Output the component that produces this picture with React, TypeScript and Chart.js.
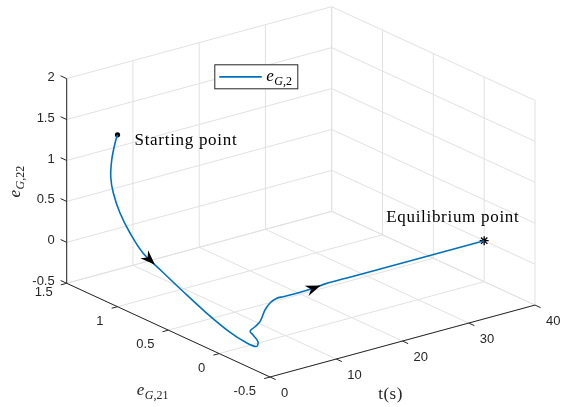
import React, { useEffect, useRef } from "react";
import { Chart, registerables } from "chart.js";

Chart.register(...registerables);

// ---- data (time t, e_G,21, e_G,22) ----
const tValues = [0, 0.15, 0.4, 0.65, 0.9, 1.2, 1.5, 1.8, 2.1, 2.4, 2.75, 3.1, 3.35, 3.55, 3.8, 4.1, 4.4, 4.8, 5.3, 6.0, 6.8, 8.0, 9.6, 11.7, 14.2, 16, 20, 25, 30, 35, 40];
const e21Values = [1.0, 1.034, 1.083, 1.109, 1.1, 1.054, 0.975, 0.867, 0.699, 0.522, 0.309, 0.105, -0.046, -0.136, -0.134, -0.066, -0.017, -0.04, -0.056, -0.06, -0.057, -0.045, -0.005, 0, 0, 0, 0, 0, 0, 0, 0];
const e22Values = [1.6, 1.477, 1.236, 1.007, 0.812, 0.587, 0.382, 0.193, 0.056, -0.081, -0.236, -0.359, -0.412, -0.414, -0.362, -0.326, -0.312, -0.255, -0.195, -0.065, 0.001, 0.025, -0.013, -0.021, -0.015, 0, 0, 0, 0, 0, 0];

const startPoint = [0, 1.0, 1.6];
const equilibriumPoint = [40, 0, 0];

// axis limits and ticks
const tLimits = [0, 40];
const e21Limits = [-0.5, 1.5];
const e22Limits = [-0.5, 2];
const tTicks = [0, 10, 20, 30, 40];
const e21Ticks = [-0.5, 0, 0.5, 1, 1.5];
const e22Ticks = [-0.5, 0, 0.5, 1, 1.5, 2];

// arrows: segment index and fraction along it
const arrowSegments = [7, 24];
const arrowFractions = [0.63, 0.62];

const seriesName = "e_{G,2}";

// ---- view (MATLAB default 3-D view) ----
const AZ = (-37.5 * Math.PI) / 180;
const EL = (30 * Math.PI) / 180;
const cA = Math.cos(AZ), sA = Math.sin(AZ), sE = Math.sin(EL), cE = Math.cos(EL);
const U_HALF = 0.5 * (Math.abs(cA) + Math.abs(sA));
const V_HALF = 0.5 * (Math.abs(sA * sE) + Math.abs(cA * sE) + cE);

function project(t: number, a: number, b: number) {
  const X = (t - tLimits[0]) / (tLimits[1] - tLimits[0]) - 0.5;
  const Y = (a - e21Limits[0]) / (e21Limits[1] - e21Limits[0]) - 0.5;
  const Z = (b - e22Limits[0]) / (e22Limits[1] - e22Limits[0]) - 0.5;
  return {
    x: cA * X + sA * Y,
    y: -sA * sE * X + cA * sE * Y + cE * Z,
  };
}

const AXIS = "#262626";
const GRID = "#e1e1e1";
const BLUE = "#0072BD";
const SANS = "'Liberation Sans', Arial, sans-serif";
const SERIF = "'Liberation Serif', 'Times New Roman', serif";

type Part = { s: string; italic?: boolean; sub?: boolean };
function parseMath(label: string): Part[] {
  const m = label.match(/^(\w)_\{(.+)\}$/);
  if (!m) return [{ s: label }];
  const sub = m[2];
  const parts: Part[] = [{ s: m[1], italic: true }];
  let i = 0;
  while (i < sub.length) {
    const isLetter = /[A-Za-z]/.test(sub[i]);
    let j = i;
    while (j < sub.length && /[A-Za-z]/.test(sub[j]) === isLetter) j++;
    parts.push({ s: sub.slice(i, j), italic: isLetter, sub: true });
    i = j;
  }
  return parts;
}

function drawMath(ctx: CanvasRenderingContext2D, label: string, x: number, y: number, align: "left" | "center", size = 17) {
  const parts = parseMath(label);
  const subSize = Math.round(size * 0.7);
  const fontOf = (p: Part) => `${p.italic ? "italic " : ""}${p.sub ? subSize : size}px ${SERIF}`;
  let w = 0;
  for (const p of parts) {
    ctx.font = fontOf(p);
    w += ctx.measureText(p.s).width;
  }
  let cx = align === "center" ? x - w / 2 : x;
  ctx.textAlign = "left";
  ctx.textBaseline = "alphabetic";
  for (const p of parts) {
    ctx.font = fontOf(p);
    ctx.fillText(p.s, cx, y + (p.sub ? size * 0.24 : 0));
    cx += ctx.measureText(p.s).width + (p.italic && !p.sub ? 0.5 : 0);
  }
}

const box3dPlugin = {
  id: "box3d",
  beforeDatasetsDraw(chart: any) {
    const ctx: CanvasRenderingContext2D = chart.ctx;
    const xs = chart.scales.x, ys = chart.scales.y;
    const P = (t: number, a: number, b: number) => {
      const q = project(t, a, b);
      return [xs.getPixelForValue(q.x), ys.getPixelForValue(q.y)];
    };
    const line = (p1: number[], p2: number[]) => {
      ctx.beginPath();
      ctx.moveTo(p1[0], p1[1]);
      ctx.lineTo(p2[0], p2[1]);
      ctx.stroke();
    };
    const [t0, t1] = tLimits, [a0, a1] = e21Limits, [b0, b1] = e22Limits;
    ctx.save();
    // grid on back planes
    ctx.strokeStyle = GRID;
    ctx.lineWidth = 1;
    for (const t of tTicks) {
      line(P(t, a0, b0), P(t, a1, b0));
      line(P(t, a1, b0), P(t, a1, b1));
    }
    for (const a of e21Ticks) {
      line(P(t0, a, b0), P(t1, a, b0));
      line(P(t1, a, b0), P(t1, a, b1));
    }
    for (const b of e22Ticks) {
      line(P(t0, a1, b), P(t1, a1, b));
      line(P(t1, a0, b), P(t1, a1, b));
    }
    // axis lines
    ctx.strokeStyle = AXIS;
    ctx.lineWidth = 1;
    line(P(t0, a1, b0), P(t0, a1, b1));
    line(P(t0, a0, b0), P(t0, a1, b0));
    line(P(t0, a0, b0), P(t1, a0, b0));
    // ticks
    const tickE21 = 0.06 * (a1 - a0) / 2;
    const tickT = 0.022 * (t1 - t0);
    for (const b of e22Ticks) line(P(t0, a1, b), P(t0, a1 + tickE21, b));
    for (const a of e21Ticks) line(P(t0, a, b0), P(t0 - tickT, a, b0));
    for (const t of tTicks) line(P(t, a0, b0), P(t, a0 - tickE21 * 0.92, b0));
    // tick labels
    ctx.fillStyle = AXIS;
    ctx.font = `13px ${SANS}`;
    ctx.textBaseline = "middle";
    ctx.textAlign = "right";
    for (const b of e22Ticks) {
      const p = P(t0, a1, b);
      ctx.fillText(String(b), p[0] - 12, p[1] - 1.5);
    }
    for (const a of e21Ticks) {
      const p = P(t0, a, b0);
      const dy = a === a1 ? 9.5 : 14.5;
      ctx.fillText(String(a), p[0] - 14, p[1] + dy);
    }
    ctx.textAlign = "left";
    for (const t of tTicks) {
      const p = P(t, a0, b0);
      ctx.fillText(String(t), p[0] + 11, p[1] + 16.5);
    }
    // axis labels
    const tm = P((t0 + t1) / 2, a0, b0);
    ctx.font = `17px ${SERIF}`;
    ctx.textAlign = "center";
    ctx.textBaseline = "alphabetic";
    (ctx as any).letterSpacing = "0.5px";
    ctx.fillText("t(s)", tm[0] - 12, tm[1] + 57.5);
    (ctx as any).letterSpacing = "0px";
    const am = P(t0, (a0 + a1) / 2, b0);
    drawMath(ctx, "e_{G,21}", am[0] - 16, am[1] + 64.5, "center");
    const bm = P(t0, a1, (b0 + b1) / 2);
    ctx.save();
    ctx.translate(bm[0] - 46.5, bm[1] + 1);
    ctx.rotate(-Math.PI / 2);
    drawMath(ctx, "e_{G,22}", 0, 0, "center");
    ctx.restore();
    ctx.restore();
  },
  afterDatasetsDraw(chart: any) {
    const ctx: CanvasRenderingContext2D = chart.ctx;
    const xs = chart.scales.x, ys = chart.scales.y;
    const P = (t: number, a: number, b: number) => {
      const q = project(t, a, b);
      return [xs.getPixelForValue(q.x), ys.getPixelForValue(q.y)];
    };
    ctx.save();
    // arrows
    ctx.fillStyle = "#000";
    arrowSegments.forEach((k, i) => {
      const p1 = P(tValues[k], e21Values[k], e22Values[k]);
      const p2 = P(tValues[k + 1], e21Values[k + 1], e22Values[k + 1]);
      const f = arrowFractions[i];
      const tip = [p1[0] + (p2[0] - p1[0]) * f, p1[1] + (p2[1] - p1[1]) * f];
      let dx = p2[0] - p1[0], dy = p2[1] - p1[1];
      const len = Math.hypot(dx, dy);
      dx /= len; dy /= len;
      const nx = -dy, ny = dx;
      const L = 15, W = 5.5;
      ctx.beginPath();
      ctx.moveTo(tip[0], tip[1]);
      ctx.lineTo(tip[0] - L * dx + W * nx, tip[1] - L * dy + W * ny);
      ctx.lineTo(tip[0] - 0.68 * L * dx, tip[1] - 0.68 * L * dy);
      ctx.lineTo(tip[0] - L * dx - W * nx, tip[1] - L * dy - W * ny);
      ctx.closePath();
      ctx.fill();
    });
    // annotations
    ctx.fillStyle = "#000";
    ctx.font = `17px ${SERIF}`;
    (ctx as any).letterSpacing = "0.7px";
    ctx.textAlign = "left";
    ctx.textBaseline = "alphabetic";
    const sp = P(startPoint[0], startPoint[1], startPoint[2]);
    ctx.fillText("Starting point", sp[0] + 17, sp[1] + 10);
    const ep = P(equilibriumPoint[0], equilibriumPoint[1], equilibriumPoint[2]);
    ctx.fillText("Equilibrium point", ep[0] - 98, ep[1] - 19);
    (ctx as any).letterSpacing = "0px";
    // legend
    const ca = chart.chartArea;
    const lx = ca.left + 147.6, ly = ca.top + 57.6, lw = 84, lh = 25;
    ctx.fillStyle = "#fff";
    ctx.fillRect(lx, ly, lw, lh);
    ctx.strokeStyle = AXIS;
    ctx.lineWidth = 1;
    ctx.strokeRect(lx + 0.5, ly + 0.5, lw - 1, lh - 1);
    ctx.strokeStyle = BLUE;
    ctx.lineWidth = 1.8;
    ctx.beginPath();
    ctx.moveTo(lx + 5, ly + 12.5);
    ctx.lineTo(lx + 47.5, ly + 12.5);
    ctx.stroke();
    ctx.fillStyle = "#000";
    drawMath(ctx, seriesName, lx + 52, ly + 17, "left");
    ctx.restore();
  },
};

export default function App() {
  const canvasRef = useRef<HTMLCanvasElement | null>(null);
  useEffect(() => {
    const canvas = canvasRef.current;
    if (!canvas) return;
    const curve = tValues.map((t, i) => project(t, e21Values[i], e22Values[i]));
    const chart = new Chart(canvas, {
      type: "scatter",
      data: {
        datasets: [
          {
            label: seriesName,
            data: curve,
            showLine: true,
            borderColor: BLUE,
            backgroundColor: BLUE,
            borderWidth: 1.6,
            pointRadius: 0,
            tension: 0.35,
            clip: false,
          } as any,
          {
            label: "start",
            data: [project(startPoint[0], startPoint[1], startPoint[2])],
            pointRadius: 2.6,
            pointBackgroundColor: "#000",
            pointBorderColor: "#000",
            pointBorderWidth: 0,
            clip: false,
          } as any,
          {
            label: "equilibrium",
            data: [project(equilibriumPoint[0], equilibriumPoint[1], equilibriumPoint[2])],
            pointStyle: "star",
            pointRadius: 4.5,
            pointBorderColor: "#000",
            pointBackgroundColor: "#000",
            pointBorderWidth: 1.3,
            clip: false,
          } as any,
        ],
      },
      options: {
        animation: false,
        responsive: true,
        maintainAspectRatio: false,
        devicePixelRatio: 1,
        layout: { padding: { left: 66.7, right: 29, top: 6.7, bottom: 30 } },
        scales: {
          x: { type: "linear", min: -U_HALF, max: U_HALF, display: false },
          y: { type: "linear", min: -V_HALF, max: V_HALF, display: false },
        },
        plugins: { legend: { display: false }, tooltip: { enabled: false } },
        events: [],
      },
      plugins: [box3dPlugin],
    });
    return () => chart.destroy();
  }, []);
  return (
    <div style={{ position: "absolute", left: 0, top: 0, width: 564, height: 407, background: "#fff" }}>
      <canvas ref={canvasRef} />
    </div>
  );
}
